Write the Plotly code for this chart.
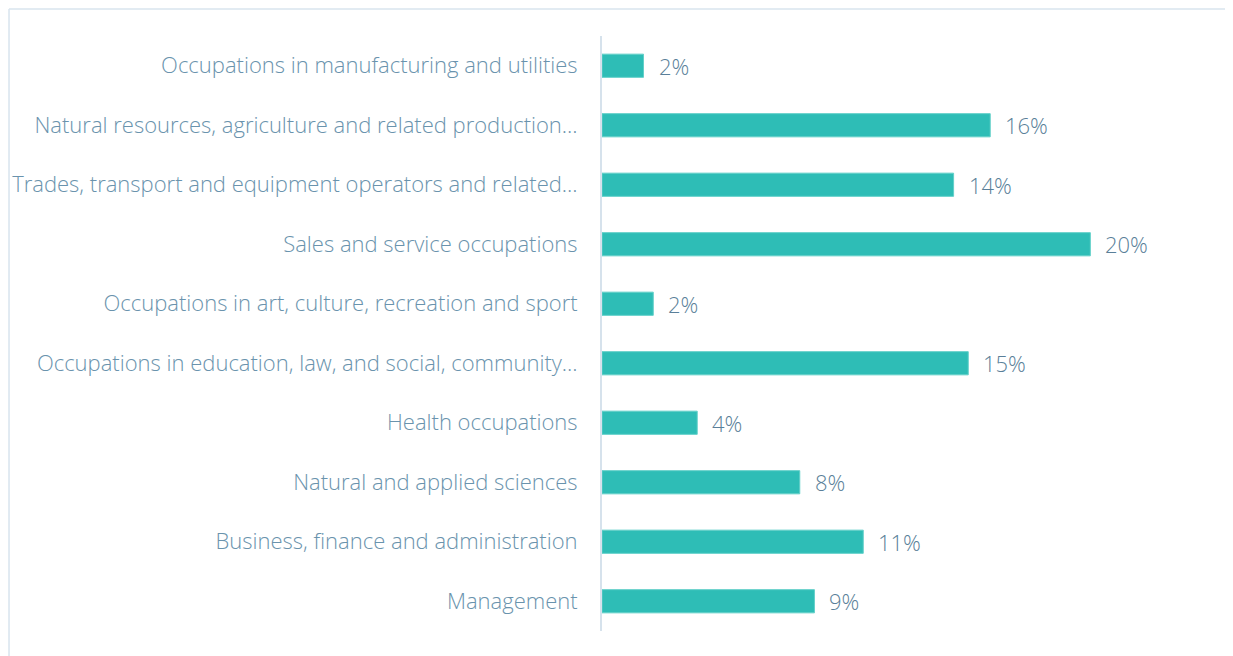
import plotly.graph_objects as go

# occupation groups, top to bottom as shown
occupations = [
    "Occupations in manufacturing and utilities",
    "Natural resources, agriculture and related production…",
    "Trades, transport and equipment operators and related…",
    "Sales and service occupations",
    "Occupations in art, culture, recreation and sport",
    "Occupations in education, law, and social, community…",
    "Health occupations",
    "Natural and applied sciences",
    "Business, finance and administration",
    "Management",
]
shares = [1.7, 15.9, 14.4, 20.0, 2.1, 15.0, 3.9, 8.1, 10.7, 8.7]
share_labels = ["2%", "16%", "14%", "20%", "2%", "15%", "4%", "8%", "11%", "9%"]

BAR = "#2ebdb6"
LABEL = "#6a93ad"
PCT = "#5a7f99"
FONT = "Open Sans"

fig = go.Figure()
fig.add_trace(go.Bar(
    y=occupations,
    x=shares,
    orientation="h",
    marker=dict(color=BAR, line=dict(color="#63d0c9", width=1)),
    hoverinfo="skip",
))

# percentage labels to the right of each bar
for occ, val, lab in zip(occupations, shares, share_labels):
    fig.add_annotation(
        x=val, y=occ, text=lab, showarrow=False,
        xanchor="left", xshift=13,
        font=dict(family=FONT, size=22, color=PCT, weight=300),
    )

# light frame around the card
fig.add_shape(type="line", xref="paper", yref="paper",
              x0=-1.0119, x1=1.2, y0=1.0454, y1=1.0454,
              line=dict(color="#d8e4ee", width=1.5))
fig.add_shape(type="line", xref="paper", yref="paper",
              x0=-1.0119, x1=-1.0119, y0=-0.1, y1=1.0454,
              line=dict(color="#d8e4ee", width=1.5))

fig.update_layout(
    width=1233, height=656,
    margin=dict(l=594, r=53, t=28, b=33, autoexpand=False),
    paper_bgcolor="white",
    plot_bgcolor="white",
    bargap=0.61,
    showlegend=False,
    font=dict(family=FONT, size=22, color=LABEL, weight=300),
    xaxis=dict(range=[0, 24], visible=False, automargin=False),
    yaxis=dict(
        autorange="reversed", automargin=False,
        showline=True, linecolor="#d6e2ec", linewidth=2,
        showgrid=False, ticks="", ticklabelstandoff=18,
        tickfont=dict(family=FONT, size=22, color=LABEL, weight=300),
    ),
)

fig.write_html("out.html")
